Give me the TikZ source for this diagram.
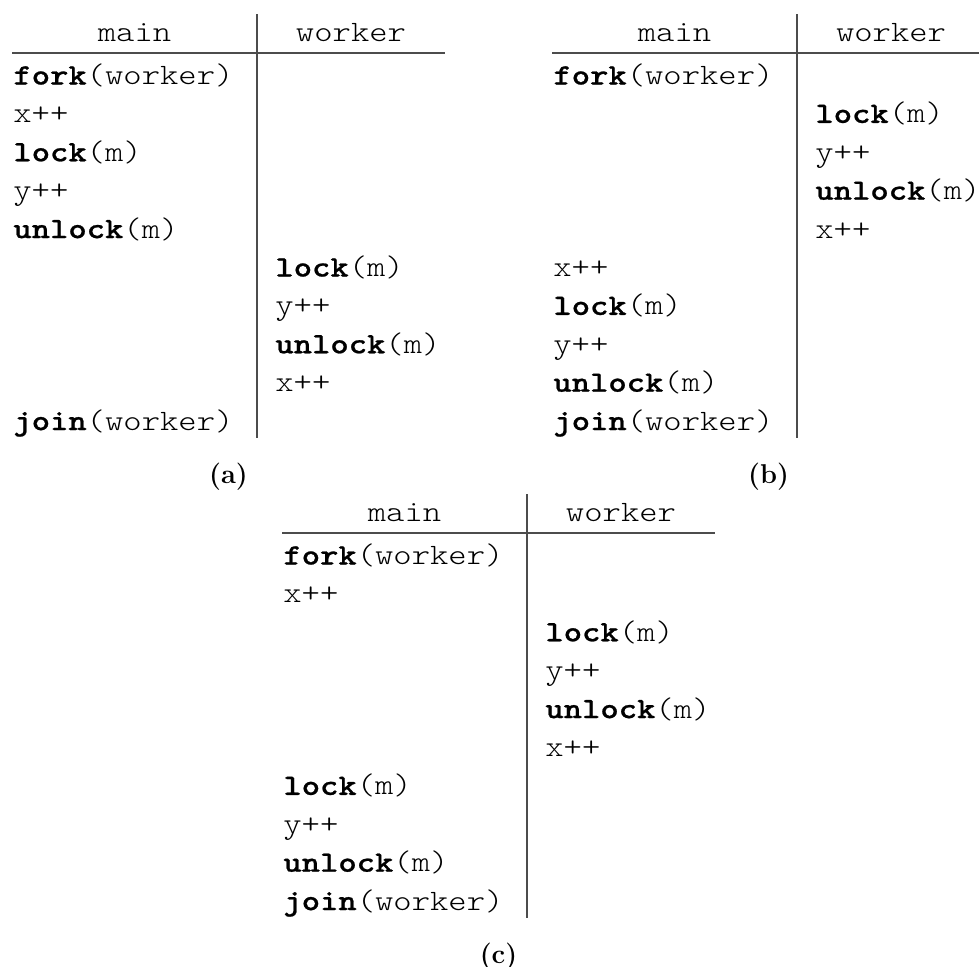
\documentclass[tikz,border=0pt]{standalone}
\usepackage{fontspec}
\setmonofont{lmmonolt10-regular.otf}[BoldFont=lmmonolt10-bold.otf, FakeStretch=1.18, BoldFeatures={FakeBold=0.8}]
\newcommand\kwd[1]{\textbf{#1}}
\begin{document}
\begin{tikzpicture}[x=0.5pt,y=-0.5pt,
  code/.style={inner sep=0pt, anchor=base west, font=\fontsize{14.8}{18}\selectfont\ttfamily},
  head/.style={inner sep=0pt, anchor=base, font=\fontsize{14.8}{18}\selectfont\ttfamily},
  rule/.style={draw=black!70, line width=0.7pt},
  caption/.style={inner sep=0pt, anchor=base, font=\fontsize{13.6}{16}\selectfont\bfseries}]
\useasboundingbox (0,0) rectangle (979,966);

% ---------- (a) ----------
\begin{scope}
  \coordinate (a-vt) at (257,14);  \coordinate (a-vb) at (257,438);
  \coordinate (a-hl) at (12,53);   \coordinate (a-hr) at (445,53);
  \draw[rule] (a-vt) -- (a-vb);
  \draw[rule] (a-hl) -- (a-hr);
  \node[head] (a-hm) at (134.5,41) {main};
  \node[head] (a-hw) at (351,41) {worker};
  \node[code] (a-m0) at (13,84.5)  {\kwd{fork}(worker)};
  \node[code] (a-m1) at (13,122.9) {x++};
  \node[code] (a-m2) at (13,161.3) {\kwd{lock}(m)};
  \node[code] (a-m3) at (13,199.7) {y++};
  \node[code] (a-m4) at (13,238.1) {\kwd{unlock}(m)};
  \node[code] (a-w5) at (275,276.5) {\kwd{lock}(m)};
  \node[code] (a-w6) at (275,314.9) {y++};
  \node[code] (a-w7) at (275,353.3) {\kwd{unlock}(m)};
  \node[code] (a-w8) at (275,391.7) {x++};
  \node[code] (a-m9) at (13,430.1) {\kwd{join}(worker)};
  \node[caption] (a-cap) at (228.5,483) {(a)};
\end{scope}

% ---------- (b) ----------
\begin{scope}[shift={(540,0)}]
  \coordinate (b-vt) at (257,14);  \coordinate (b-vb) at (257,438);
  \coordinate (b-hl) at (12,53);   \coordinate (b-hr) at (445,53);
  \draw[rule] (b-vt) -- (b-vb);
  \draw[rule] (b-hl) -- (b-hr);
  \node[head] (b-hm) at (134.5,41) {main};
  \node[head] (b-hw) at (351,41) {worker};
  \node[code] (b-m0) at (13,84.5)  {\kwd{fork}(worker)};
  \node[code] (b-w1) at (275,122.9) {\kwd{lock}(m)};
  \node[code] (b-w2) at (275,161.3) {y++};
  \node[code] (b-w3) at (275,199.7) {\kwd{unlock}(m)};
  \node[code] (b-w4) at (275,238.1) {x++};
  \node[code] (b-m5) at (13,276.5) {x++};
  \node[code] (b-m6) at (13,314.9) {\kwd{lock}(m)};
  \node[code] (b-m7) at (13,353.3) {y++};
  \node[code] (b-m8) at (13,391.7) {\kwd{unlock}(m)};
  \node[code] (b-m9) at (13,430.1) {\kwd{join}(worker)};
  \node[caption] (b-cap) at (228.5,483) {(b)};
\end{scope}

% ---------- (c) ----------
\begin{scope}[shift={(270,480)}]
  \coordinate (c-vt) at (257,14);  \coordinate (c-vb) at (257,438);
  \coordinate (c-hl) at (12,53);   \coordinate (c-hr) at (445,53);
  \draw[rule] (c-vt) -- (c-vb);
  \draw[rule] (c-hl) -- (c-hr);
  \node[head] (c-hm) at (134.5,41) {main};
  \node[head] (c-hw) at (351,41) {worker};
  \node[code] (c-m0) at (13,84.5)  {\kwd{fork}(worker)};
  \node[code] (c-m1) at (13,122.9) {x++};
  \node[code] (c-w2) at (275,161.3) {\kwd{lock}(m)};
  \node[code] (c-w3) at (275,199.7) {y++};
  \node[code] (c-w4) at (275,238.1) {\kwd{unlock}(m)};
  \node[code] (c-w5) at (275,276.5) {x++};
  \node[code] (c-m6) at (13,314.9) {\kwd{lock}(m)};
  \node[code] (c-m7) at (13,353.3) {y++};
  \node[code] (c-m8) at (13,391.7) {\kwd{unlock}(m)};
  \node[code] (c-m9) at (13,430.1) {\kwd{join}(worker)};
  \node[caption] (c-cap) at (228.5,483) {(c)};
\end{scope}
\end{tikzpicture}
\end{document}
